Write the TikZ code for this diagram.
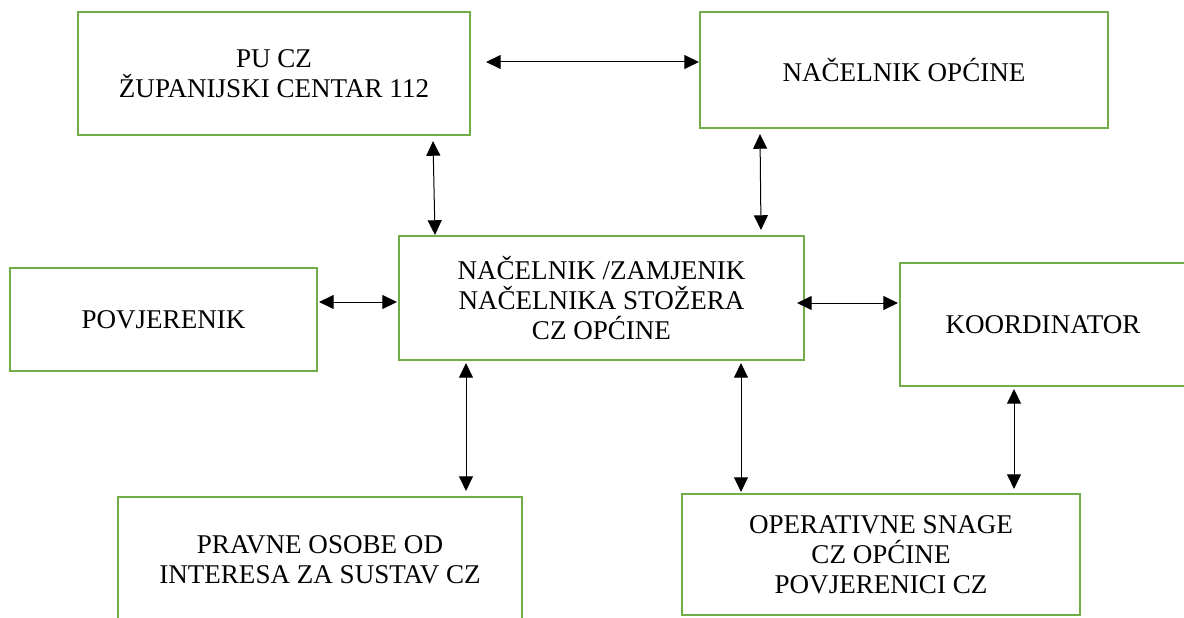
\documentclass[tikz,border=0pt]{standalone}
\usepackage{fontspec}
\setmainfont{Liberation Serif}
\usetikzlibrary{arrows.meta,calc}

\definecolor{boxgreen}{RGB}{112,173,71}
\tikzset{every picture/.style={line width=0.75pt}}
\tikzset{
  orgbox/.style={draw=boxgreen,line width=1.6pt,rectangle,align=center,inner sep=0pt,
    font=\fontsize{20.3}{22.5}\selectfont},
  link/.style={black,line width=0.75pt,{Triangle[length=11pt,width=10.5pt]}-{Triangle[length=11pt,width=10.5pt]}}
}

\begin{document}
\begin{tikzpicture}[x=0.75pt,y=0.75pt,yscale=-1,xscale=1]
%set diagram area 1184 x 617
\clip (0,0) rectangle (1184,617);

%Shape: Rectangle [id:pu]
\node [orgbox,minimum width=294pt,minimum height=92.25pt] (pu) at (274,73.5) {PU CZ\\ŽUPANIJSKI CENTAR 112};
%Shape: Rectangle [id:opcina]
\node [orgbox,minimum width=306pt,minimum height=87pt] (opcina) at (904,70) {NAČELNIK OPĆINE};
%Shape: Rectangle [id:stozer]
\node [orgbox,minimum width=303.75pt,minimum height=93pt] (stozer) at (601.5,298) {NAČELNIK /ZAMJENIK\\NAČELNIKA STOŽERA\\CZ OPĆINE};
%Shape: Rectangle [id:povjerenik]
\node [orgbox,minimum width=230.25pt,minimum height=77.25pt] (povjerenik) at (163.5,319.5) {POVJERENIK};
%Shape: Rectangle [id:koordinator]
\node [orgbox,minimum width=214.5pt,minimum height=92.25pt] (koordinator) at (1043,324.5) {KOORDINATOR};
%Shape: Rectangle [id:pravne]
\node [orgbox,minimum width=303pt,minimum height=94.5pt] (pravne) at (320,560) {PRAVNE OSOBE OD\\INTERESA ZA SUSTAV CZ};
%Shape: Rectangle [id:operativne]
\node [orgbox,minimum width=298.5pt,minimum height=90.75pt] (operativne) at (881,554.5) {OPERATIVNE SNAGE\\CZ OPĆINE\\POVJERENICI CZ};

%Straight Lines [id:links]
\draw [link] ($(pu.east)+(15,-11.5)$) -- ($(opcina.west)+(0,-8)$);
\draw [link] ($(pu.south)+(159,5)$) -- ($(stozer.north)+(-166.5,0)$);
\draw [link] ($(opcina.south)+(-144,5)$) -- ($(stozer.north)+(159.5,-5)$);
\draw [link] ($(povjerenik.east)+(1,-17.5)$) -- ($(stozer.west)+(-1,4)$);
\draw [link] ($(stozer.east)+(-8,5)$) -- ($(koordinator.west)+(-1,-21.5)$);
\draw [link] ($(stozer.south)+(-135.5,2)$) -- ($(pravne.north)+(146,-5)$);
\draw [link] ($(stozer.south)+(139.5,2)$) -- ($(operativne.north)+(-140,-1)$);
\draw [link] ($(koordinator.south)+(-29,2)$) -- ($(operativne.north)+(133,-4)$);

\end{tikzpicture}
\end{document}
